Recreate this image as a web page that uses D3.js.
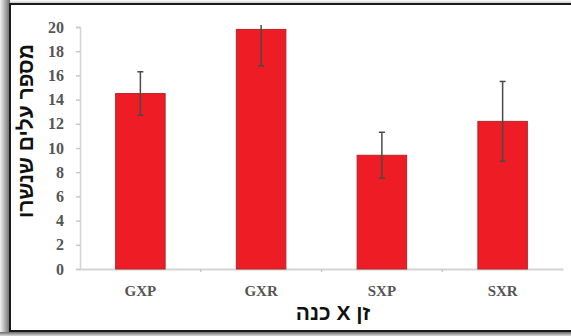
<!DOCTYPE html>
<html>
<head>
<meta charset="utf-8">
<script src="https://cdn.jsdelivr.net/npm/d3@7"></script>
<style>
  html, body { margin: 0; padding: 0; background: #fff; }
  svg { display: block; }
</style>
</head>
<body>
<script>
// Leaf drop per graft combination (mean with error bars)
const categories = ["GXP", "GXR", "SXP", "SXR"];
const means = [14.5, 19.8, 9.4, 12.2];
const errors = [1.8, 3.0, 1.9, 3.3];
const yTicks = [0, 2, 4, 6, 8, 10, 12, 14, 16, 18, 20];
const xTitle = "זן X כנה";
const yTitle = "מספר עלים שנשרו";

const W = 571, H = 336;
const svg = d3.select("body").append("svg").attr("width", W).attr("height", H);

// Page frame with a soft drop shadow on the left and bottom
const defs = svg.append("defs");
const gl = defs.append("linearGradient").attr("id", "shadeL").attr("x1", 0).attr("x2", 1).attr("y1", 0).attr("y2", 0);
gl.append("stop").attr("offset", "0%").attr("stop-color", "#f2f2f2");
gl.append("stop").attr("offset", "100%").attr("stop-color", "#6a6a6a");
const gb = defs.append("linearGradient").attr("id", "shadeB").attr("x1", 0).attr("x2", 0).attr("y1", 0).attr("y2", 1);
gb.append("stop").attr("offset", "0%").attr("stop-color", "#6a6a6a");
gb.append("stop").attr("offset", "100%").attr("stop-color", "#d8d8d8");
const gt = defs.append("linearGradient").attr("id", "shadeT").attr("x1", 0).attr("x2", 0).attr("y1", 0).attr("y2", 1);
gt.append("stop").attr("offset", "0%").attr("stop-color", "#ffffff");
gt.append("stop").attr("offset", "100%").attr("stop-color", "#bdbdbd");

svg.append("rect").attr("x", 0).attr("y", 0).attr("width", W).attr("height", H).attr("fill", "#fff");
svg.append("rect").attr("x", 0).attr("y", 0).attr("width", W).attr("height", 4).attr("fill", "url(#shadeT)");
svg.append("rect").attr("x", 0).attr("y", 0).attr("width", 10).attr("height", H).attr("fill", "url(#shadeL)");
svg.append("rect").attr("x", 0).attr("y", 332).attr("width", W).attr("height", 4).attr("fill", "url(#shadeB)");
svg.append("rect").attr("x", 10).attr("y", 4).attr("width", W + 10).attr("height", 327)
  .attr("fill", "#fff").attr("stroke", "#1a1a1a").attr("stroke-width", 2);

const plot = { left: 80, right: 563, top: 27, bottom: 269 };

const x = d3.scaleBand().domain(categories).range([plot.left, plot.right]).padding(0);
const y = d3.scaleLinear().domain([0, 20]).range([plot.bottom, plot.top]);
const barW = x.bandwidth() * 0.41;

const tickFont = "'Liberation Serif', 'Times New Roman', serif";
const titleFont = "'Liberation Sans', Arial, sans-serif";

// Y axis
const yAxis = svg.append("g").attr("transform", `translate(${plot.left},0)`)
  .call(d3.axisLeft(y).tickValues(yTicks).tickSize(4).tickPadding(12).tickFormat(d3.format("d")));
yAxis.select(".domain").attr("stroke", "#d4d4d4").attr("stroke-width", 1.5);
yAxis.selectAll(".tick line").attr("stroke", "#c8c8c8").attr("stroke-width", 1.5);
yAxis.selectAll(".tick text")
  .attr("font-family", tickFont)
  .attr("font-weight", "bold").attr("font-size", 16).attr("fill", "#555");

// X axis
const xAxis = svg.append("g").attr("transform", `translate(0,${plot.bottom})`)
  .call(d3.axisBottom(x).tickSize(0).tickPadding(16));
xAxis.select(".domain").attr("stroke", "#d4d4d4").attr("stroke-width", 2);
xAxis.selectAll(".tick text")
  .attr("font-family", tickFont)
  .attr("font-weight", "bold").attr("font-size", 15).attr("fill", "#555");
// Category boundary ticks
xAxis.selectAll(".bound").data(categories.slice(1)).enter().append("line")
  .attr("class", "bound")
  .attr("x1", d => x(d)).attr("x2", d => x(d))
  .attr("y1", 0).attr("y2", 3)
  .attr("stroke", "#c8c8c8").attr("stroke-width", 1.5);

// Bars
const data = categories.map((c, i) => ({ c, m: means[i], e: errors[i] }));
svg.append("g").selectAll("rect").data(data).enter().append("rect")
  .attr("x", d => x(d.c) + x.bandwidth() / 2 - barW / 2)
  .attr("y", d => y(d.m))
  .attr("width", barW)
  .attr("height", d => y(0) - y(d.m))
  .attr("fill", "#ee1c25")
  .attr("stroke", "#b3272a").attr("stroke-width", 1);

// Error bars, clipped to the plotting area
defs.append("clipPath").attr("id", "plotClip").append("rect")
  .attr("x", plot.left).attr("y", plot.top - 2)
  .attr("width", plot.right - plot.left).attr("height", plot.bottom - plot.top + 2);
const eb = svg.append("g").attr("clip-path", "url(#plotClip)")
  .selectAll("g").data(data).enter().append("g")
  .attr("stroke", "#4a4a4a").attr("stroke-width", 1.5);
eb.append("line")
  .attr("x1", d => x(d.c) + x.bandwidth() / 2).attr("x2", d => x(d.c) + x.bandwidth() / 2)
  .attr("y1", d => y(d.m + d.e)).attr("y2", d => y(d.m - d.e));
eb.append("line")
  .attr("x1", d => x(d.c) + x.bandwidth() / 2 - 3).attr("x2", d => x(d.c) + x.bandwidth() / 2 + 3)
  .attr("y1", d => y(d.m + d.e)).attr("y2", d => y(d.m + d.e));
eb.append("line")
  .attr("x1", d => x(d.c) + x.bandwidth() / 2 - 3).attr("x2", d => x(d.c) + x.bandwidth() / 2 + 3)
  .attr("y1", d => y(d.m - d.e)).attr("y2", d => y(d.m - d.e));

// Axis titles
svg.append("text")
  .attr("x", 333).attr("y", 320)
  .attr("text-anchor", "middle").attr("direction", "rtl")
  .attr("font-family", titleFont)
  .attr("font-weight", "bold").attr("font-size", 21).attr("fill", "#111")
  .text(xTitle);

svg.append("text")
  .attr("transform", "translate(33,131) rotate(-90)")
  .attr("text-anchor", "middle").attr("direction", "rtl")
  .attr("font-family", titleFont)
  .attr("font-weight", "bold").attr("font-size", 21).attr("fill", "#111")
  .text(yTitle);
</script>
</body>
</html>
